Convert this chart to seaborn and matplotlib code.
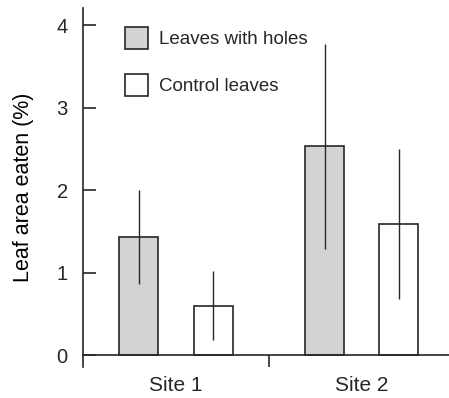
"""
Leaf area eaten at two sites: leaves with holes vs control leaves
"""
import numpy as np
import pandas as pd
import matplotlib
matplotlib.use('Agg')
import matplotlib.pyplot as plt
import seaborn as sns

# Data
sites = ['Site 1', 'Site 2']
treatments = ['Leaves with holes', 'Control leaves']
holes_mean = [1.43, 2.53]
holes_err = [0.57, 1.24]
control_mean = [0.60, 1.59]
control_err = [0.42, 0.91]

sns.set_style('ticks')
plt.rcParams['font.family'] = ['Liberation Sans', 'DejaVu Sans']

df = pd.DataFrame({
    'site': sites * 2,
    'treatment': [treatments[0]] * 2 + [treatments[1]] * 2,
    'value': holes_mean + control_mean,
    'err': holes_err + control_err,
})

ink = '#262626'
fig = plt.figure(figsize=(4.49, 3.98), dpi=100)
ax = fig.add_axes([83 / 449, 1 - 367 / 398, 1 - 83 / 449, (367 - 8) / 398])

sns.barplot(data=df, x='site', y='value', hue='treatment', hue_order=treatments,
            palette=['#d2d3d5', 'white'], errorbar=None, width=0.8, gap=0.475,
            edgecolor=ink, linewidth=1.2, ax=ax, legend=True)

# Error bars centred on each drawn bar
bars = [p for p in ax.patches if p.get_height() > 0]
for bar in bars:
    cx = bar.get_x() + bar.get_width() / 2
    h = bar.get_height()
    row = df[np.isclose(df['value'], h)].iloc[0]
    ax.errorbar(cx, h, yerr=row['err'], fmt='none', ecolor=ink,
                elinewidth=1.0, capsize=0, zorder=5)

ax.set_xlim(-0.5, 1.47)
ax.set_ylim(-0.145, 4.21)
ax.set_yticks([0, 1, 2, 3, 4])
ax.set_xlabel('')
ax.set_ylabel('Leaf area eaten (%)', fontsize=15.5, color='black', labelpad=16)

for s in ['top', 'right']:
    ax.spines[s].set_visible(False)
ax.spines['bottom'].set_position(('data', 0))
for s in ['left', 'bottom']:
    ax.spines[s].set_color(ink)
    ax.spines[s].set_linewidth(1.2)

ax.tick_params(axis='y', direction='in', length=9.5, width=1.2, color=ink,
               labelsize=14.5, pad=11)
ax.tick_params(axis='x', which='major', length=0, labelsize=15, pad=15)
ax.set_xticks([0.5], minor=True)
ax.tick_params(axis='x', which='minor', direction='out', length=8.5, width=1.2,
               color=ink)

leg = ax.legend(loc='upper left', bbox_to_anchor=(125 / 449, 1 - 27 / 398),
                bbox_transform=fig.transFigure, frameon=False, fontsize=13.5,
                handlelength=1.2, handleheight=1.45, handletextpad=0.6,
                labelspacing=1.3, borderpad=0, borderaxespad=0)
for h in leg.legend_handles:
    h.set_edgecolor(ink)
    h.set_linewidth(1.2)

fig.savefig('out.png', dpi=100, facecolor='white')
